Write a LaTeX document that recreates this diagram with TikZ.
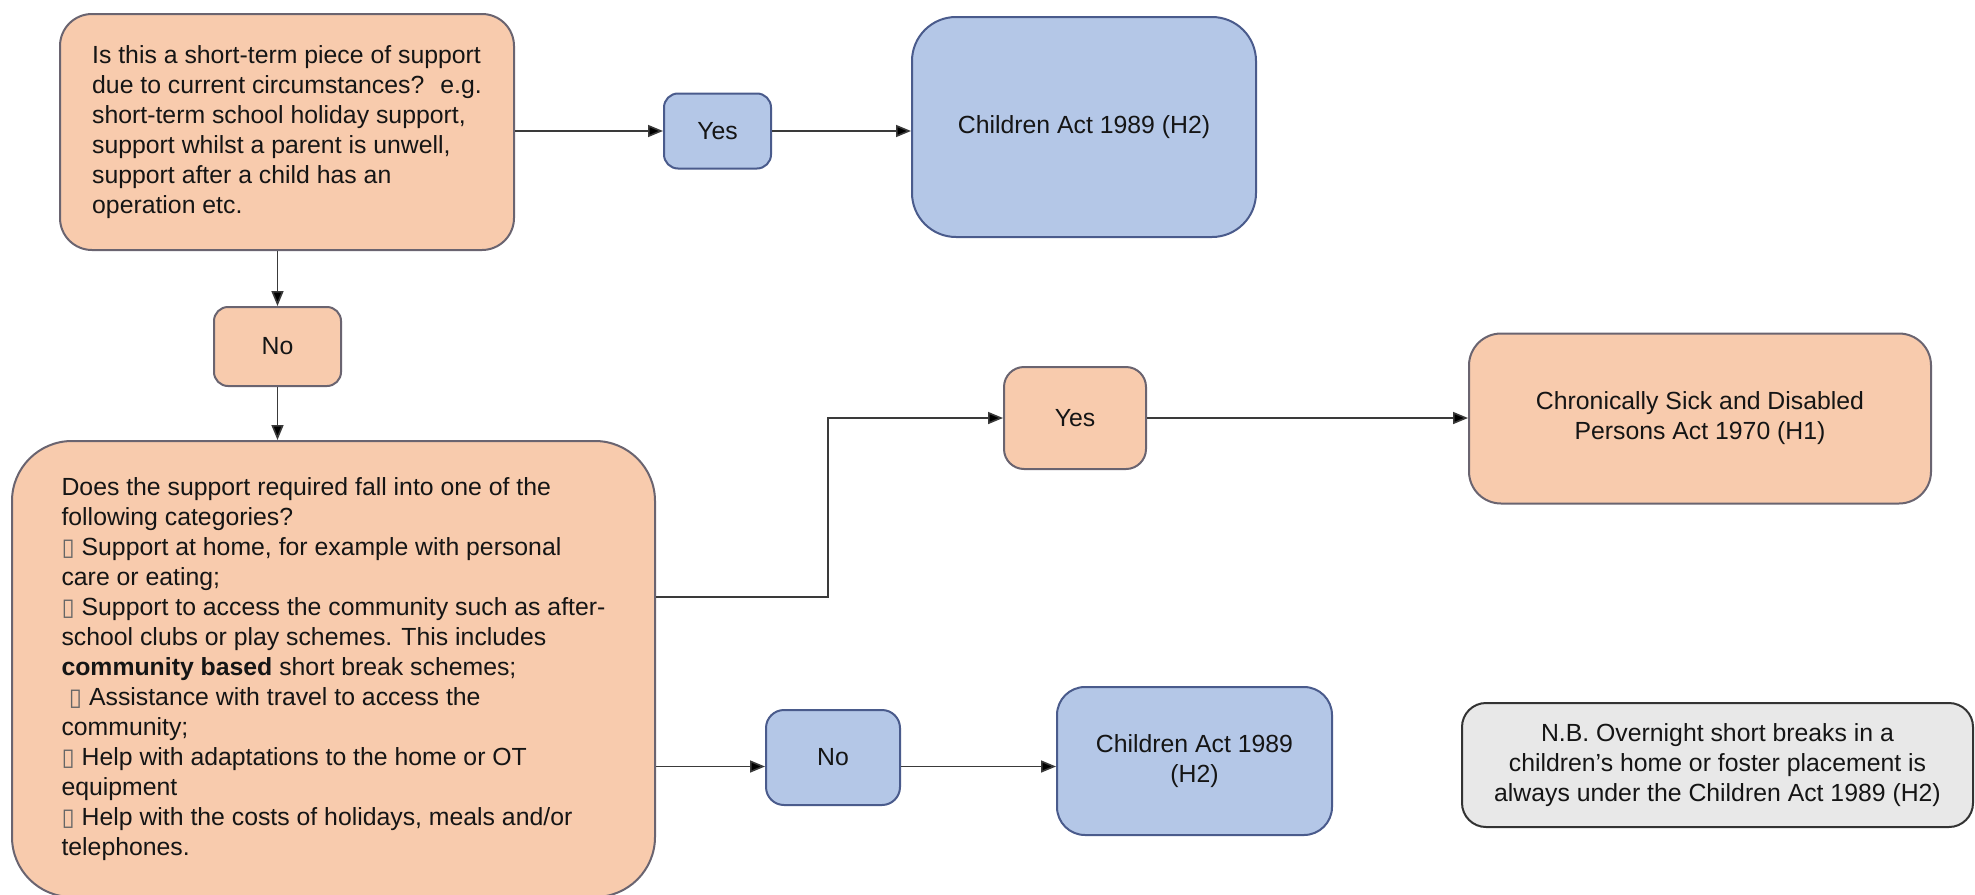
\documentclass[tikz,border=0pt]{standalone}
\usepackage{fontspec}
\setmainfont{Liberation Sans}
\newfontfamily\symfont{DejaVu Sans}
\usetikzlibrary{arrows.meta}
\definecolor{peach}{HTML}{F8CBAD}
\definecolor{peachline}{HTML}{6A6470}
\definecolor{bluefill}{HTML}{B4C7E7}
\definecolor{blueline}{HTML}{4A5B8C}
\definecolor{greyfill}{HTML}{E8E8E8}
\definecolor{greyline}{HTML}{333333}
\definecolor{txt}{HTML}{151515}
\definecolor{conn}{HTML}{3A3A3A}
\newcommand{\bx}{{\symfont\fontsize{12}{12}\selectfont\color{black!60}▯}}
\begin{document}
\begin{tikzpicture}[x=0.5pt,y=-0.5pt,
  every node/.style={font=\fontsize{12.4}{15}\selectfont, text=txt, inner sep=0pt},
  orangebox/.style={draw=peachline, fill=peach, line width=1pt},
  bluebox/.style={draw=blueline, fill=bluefill, line width=1pt},
  greybox/.style={draw=greyline, fill=greyfill, line width=1pt},
  conn/.style={draw=conn, line width=0.8pt, -{Triangle[length=7.5pt,width=6pt,fill=black]}}]
\useasboundingbox (0,0) rectangle (1975,894);
\fill[white] (0,0) rectangle (1975,894);

% question 1
\node[orangebox, rounded corners=16pt, minimum width=227pt, minimum height=118pt, align=left]
  (q1) at (287,132) {Is this a short-term piece of support\\
  due to current circumstances?~ e.g.\\
  short-term school holiday support,\\
  support whilst a parent is unwell,\\
  support after a child has an\\
  operation etc.};

\node[bluebox, rounded corners=7pt, minimum width=53.5pt, minimum height=37.5pt]
  (yes1) at (717.5,131) {Yes};
\node[bluebox, rounded corners=22pt, minimum width=172pt, minimum height=110pt]
  (ca1) at (1084,127) {Children Act 1989 (H2)};

\node[orangebox, rounded corners=7pt, minimum width=63.5pt, minimum height=39.5pt]
  (no1) at (277.5,346.5) {No};

% question 2
\node[orangebox, rounded corners=30pt, minimum width=321.5pt, minimum height=228pt, align=left]
  (q2) at (333.5,669) {Does the support required fall into one of the\\
  following categories?\\
  \bx\ Support at home, for example with personal\\
  care or eating;\\
  \bx\ Support to access the community such as after-\\
  school clubs or play schemes. This includes\\
  \textbf{community based} short break schemes;\\
  \hspace{0.3em}\bx\ Assistance with travel to access the\\
  community;\\
  \bx\ Help with adaptations to the home or OT\\
  equipment\\
  \bx\ Help with the costs of holidays, meals and/or\\
  telephones.};

\node[orangebox, rounded corners=10pt, minimum width=71pt, minimum height=51pt]
  (yes2) at (1075,418) {Yes};
\node[orangebox, rounded corners=16pt, minimum width=231pt, minimum height=85pt, align=center]
  (csdp) at (1700,418.5) {Chronically Sick and Disabled\\Persons Act 1970 (H1)};

\node[bluebox, rounded corners=9pt, minimum width=67pt, minimum height=47.5pt]
  (no2) at (833,757.5) {No};
\node[bluebox, rounded corners=14pt, minimum width=137.5pt, minimum height=74pt, align=center]
  (ca2) at (1194.5,761) {Children Act 1989\\(H2)};

\node[greybox, rounded corners=12pt, minimum width=255.5pt, minimum height=62pt, align=center]
  (nb) at (1717.5,765) {N.B. Overnight short breaks in a\\
  children's home or foster placement is\\
  always under the Children Act 1989 (H2)};

% connectors
\draw[conn] (q1.east |- yes1.west) -- (yes1.west);
\draw[conn] (yes1.east) -- (yes1.east -| ca1.west);
\draw[conn] (q1.south -| no1.north) -- (no1.north);
\draw[conn] (no1.south) -- (no1.south |- q2.north);
\coordinate (bend) at (828,597);
\draw[conn] (q2.east |- bend) -- (bend) |- (yes2.west);
\draw[conn] (yes2.east) -- (yes2.east -| csdp.west);
\coordinate (no2in) at ([yshift=-4.5pt]no2.west);
\coordinate (no2out) at ([yshift=-4.5pt]no2.east);
\draw[conn] (q2.east |- no2in) -- (no2in);
\draw[conn] (no2out) -- (no2out -| ca2.west);
\end{tikzpicture}
\end{document}
